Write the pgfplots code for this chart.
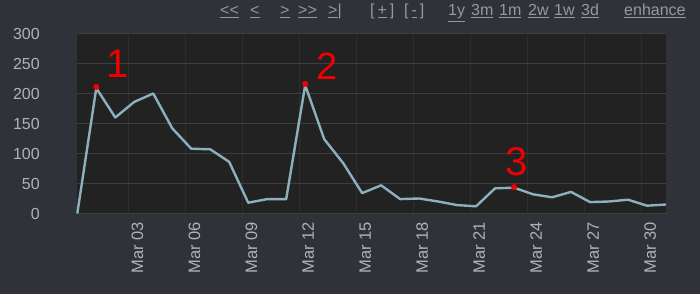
\documentclass[border=0pt]{standalone}
\usepackage{pgfplots}
\pgfplotsset{compat=1.18}
\usepackage{fontspec}
\setmainfont{Liberation Sans}
\definecolor{outerbg}{RGB}{47,50,57}
\definecolor{plotbg}{RGB}{34,34,34}
\definecolor{hgrid}{RGB}{62,62,62}
\definecolor{vgrid}{RGB}{46,46,46}
\definecolor{linec}{RGB}{140,176,189}
\definecolor{ticktxt}{RGB}{178,178,178}
\definecolor{linktxt}{RGB}{150,152,156}
\definecolor{annot}{RGB}{240,0,0}
\begin{document}
\begin{tikzpicture}[x=1pt,y=1pt]
\fill[outerbg] (0,0) rectangle (700,294);
\useasboundingbox (0,0) rectangle (700,294);
\begin{scope}[every node/.style={anchor=base west, inner sep=0pt, text=linktxt, font=\fontsize{16}{18}\selectfont}]
\node at (220,278) {\underline{<\kern0pt<}};
\node at (250,278) {\underline{<}};
\node at (280,278) {\underline{>}};
\node at (298,278) {\underline{>\kern0pt>}};
\node at (328,278) {\underline{>}|};
\node at (370,278) {[\hspace{3pt}\underline{+}\hspace{3pt}]};
\node at (404,278) {[\hspace{3pt}\underline{-}\hspace{3pt}]};
\node at (448,278) {\underline{1y}};
\node at (471,278) {\underline{3m}};
\node at (499,278) {\underline{1m}};
\node at (528,278) {\underline{2w}};
\node at (554,278) {\underline{1w}};
\node at (581,278) {\underline{3d}};
\node at (624,278) {\underline{enhance}};
\end{scope}
\begin{axis}[
  at={(77.3pt,80.5pt)}, anchor=south west,
  scale only axis, width=588.7pt, height=180pt,
  xmin=0, xmax=31, ymin=0, ymax=300,
  clip=false,
  axis background/.style={fill=plotbg},
  axis line style={draw=none},
  major tick length=0pt,
  ytick={0,50,100,150,200,250,300},
  xtick={2.69,5.69,8.69,11.69,14.69,17.69,20.69,23.69,26.69,29.69},
  xticklabels={Mar 03,Mar 06,Mar 09,Mar 12,Mar 15,Mar 18,Mar 21,Mar 24,Mar 27,Mar 30},
  /pgf/number format/assume math mode=true,
  tick label style={font=\fontsize{16}{18}\selectfont, text=ticktxt},
  yticklabel style={anchor=east, xshift=-34pt},
  xticklabel style={rotate=90, anchor=east, yshift=-9pt, xshift=-5pt, font=\fontsize{16.5}{18}\selectfont},
  grid=major,
  major x grid style={draw=vgrid, line width=1.2pt},
  major y grid style={draw=hgrid, line width=1.6pt},
]
\addplot[linec, line width=2.4pt, line join=round] table {
x y
0 0
1 209
2 160
3 186
4 200
5 142
6 108
7 107
8 86
9 18
10 24
11 24
12 214
13 124
14 84
15 34
16 47
17 24
18 25
19 20
20 14
21 12
22 42
23 43
24 32
25 27
26 36
27 19
28 20
29 23
30 13
31 15
};
\addplot[only marks, mark=*, mark size=2.8pt, color=annot] coordinates {(1,211) (12,216) (23,44)};
\node[text=annot, font=\fontsize{40}{40}\selectfont] at (axis cs:2.14,249) {1};
\node[text=annot, font=\fontsize{38}{38}\selectfont] at (axis cs:13.14,246) {2};
\node[text=annot, font=\fontsize{40}{40}\selectfont] at (axis cs:23.14,86) {3};
\end{axis}
\end{tikzpicture}
\end{document}
